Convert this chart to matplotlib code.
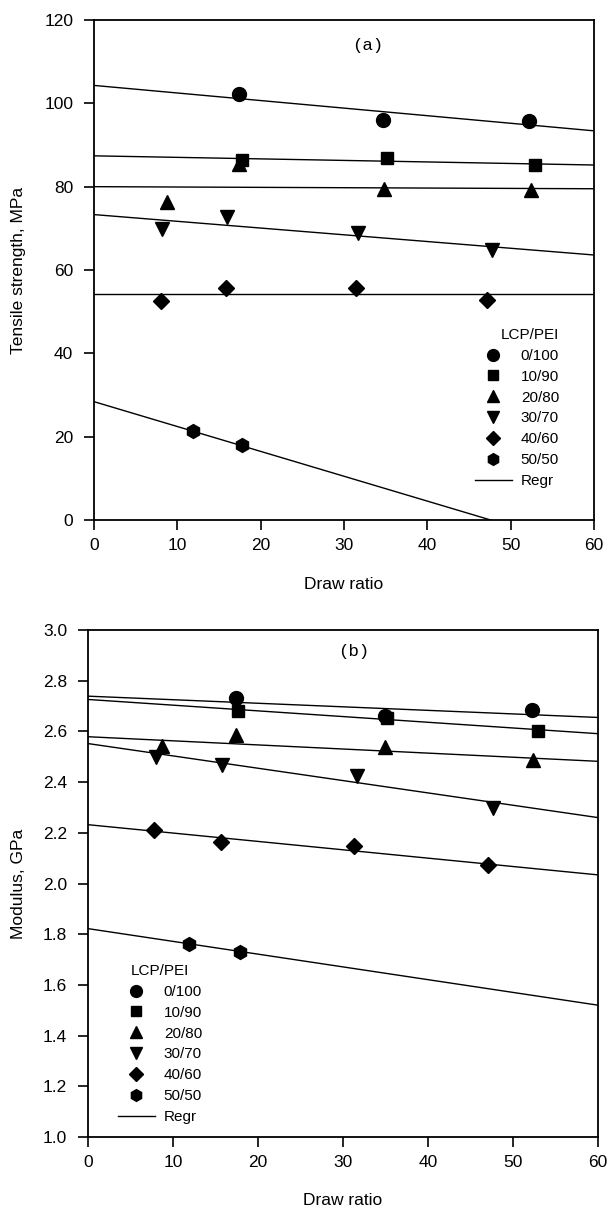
import matplotlib
matplotlib.use("Agg")
import matplotlib.pyplot as plt
import numpy as np

plt.rcParams['font.family'] = ['Liberation Sans', 'DejaVu Sans']

# ---------------- data ----------------
groups = ["0/100", "10/90", "20/80", "30/70", "40/60", "50/50"]
markers = ["o", "s", "^", "v", "D", "h"]
msizes = [10, 9, 10, 10, 8, 10]

# (a) tensile strength, MPa
ts_x = [
    [17.4, 34.7, 52.2],
    [17.7, 35.2, 52.9],
    [8.8, 17.4, 34.8, 52.4],
    [8.2, 15.9, 31.7, 47.7],
    [8.0, 15.8, 31.4, 47.1],
    [11.9, 17.8],
]
ts_y = [
    [102.2, 96.1, 95.8],
    [86.5, 86.8, 85.1],
    [76.4, 85.5, 79.4, 79.1],
    [69.8, 72.6, 68.8, 64.8],
    [52.6, 55.7, 55.7, 52.9],
    [21.4, 17.9],
]
# regression lines read at draw ratio 0 and 60
ts_regr_at0 = [104.3, 87.4, 80.0, 73.3, 54.3, 28.4]
ts_regr_at60 = [93.4, 85.2, 79.5, 63.6, 54.3, -7.4]

# (b) modulus, GPa
mod_x = [
    [17.4, 34.9, 52.2],
    [17.6, 35.2, 52.9],
    [8.7, 17.4, 34.9, 52.4],
    [8.0, 15.8, 31.7, 47.7],
    [7.8, 15.7, 31.3, 47.1],
    [11.9, 17.9],
]
mod_y = [
    [2.732, 2.662, 2.684],
    [2.679, 2.652, 2.602],
    [2.544, 2.585, 2.539, 2.486],
    [2.498, 2.467, 2.426, 2.299],
    [2.213, 2.165, 2.147, 2.074],
    [1.760, 1.731],
]
mod_regr_at0 = [2.739, 2.726, 2.579, 2.552, 2.232, 1.822]
mod_regr_at60 = [2.655, 2.591, 2.482, 2.260, 2.034, 1.520]

regr_x = [0, 60]

# ---------------- figure ----------------
W, H = 609, 1211
fig = plt.figure(figsize=(W / 100, H / 100), dpi=100)

def px_axes(l, t, r, b):
    return fig.add_axes([l / W, 1 - b / H, (r - l) / W, (b - t) / H])

ax1 = px_axes(94, 20, 594, 520)
ax2 = px_axes(88, 630, 598, 1137)

FS = 12.5
LFS = 11

def style(ax):
    for s in ax.spines.values():
        s.set_linewidth(1.3)
    ax.tick_params(direction='out', length=7, width=1.2, labelsize=FS,
                   top=False, right=False)
    ax.tick_params(axis='x', pad=6)
    ax.tick_params(axis='y', pad=8)

def draw(ax, xs, ys, r0, r60):
    for i in range(len(groups)):
        ax.plot(xs[i], ys[i], linestyle='none', marker=markers[i],
                markersize=msizes[i], color='black', label=groups[i],
                zorder=3)
    for i in range(len(groups)):
        ax.plot(regr_x, [r0[i], r60[i]], color='black', linewidth=1.0,
                label='Regr' if i == 0 else None, zorder=2)

draw(ax1, ts_x, ts_y, ts_regr_at0, ts_regr_at60)
draw(ax2, mod_x, mod_y, mod_regr_at0, mod_regr_at60)

ax1.set_xlim(0, 60)
ax1.set_ylim(0, 120)
ax1.set_xticks(np.arange(0, 61, 10))
ax1.set_yticks(np.arange(0, 121, 20))
ax1.set_xlabel("Draw ratio", fontsize=FS)
ax1.set_ylabel("Tensile strength, MPa", fontsize=FS)
ax1.xaxis.set_label_coords(0.5, -0.114)
ax1.yaxis.set_label_coords(-0.135, 0.5)
ax1.text(32.9, 113.8, "(a)", fontsize=FS, family='Liberation Mono',
         ha='center', va='center')

ax2.set_xlim(0, 60)
ax2.set_ylim(1.0, 3.0)
ax2.set_xticks(np.arange(0, 61, 10))
ax2.set_yticks(np.arange(1.0, 3.01, 0.2))
ax2.set_yticklabels([f"{v:.1f}" for v in np.arange(1.0, 3.01, 0.2)])
ax2.set_xlabel("Draw ratio", fontsize=FS)
ax2.set_ylabel("Modulus, GPa", fontsize=FS)
ax2.xaxis.set_label_coords(0.5, -0.110)
ax2.yaxis.set_label_coords(-0.122, 0.5)
ax2.text(31.2, 2.917, "(b)", fontsize=FS, family='Liberation Mono',
         ha='center', va='center')

for ax in (ax1, ax2):
    style(ax)

leg_kw = dict(title="LCP/PEI", frameon=False, fontsize=LFS,
              title_fontsize=LFS, markerscale=0.85, handlelength=2.4,
              handletextpad=0.6, labelspacing=0.45, borderpad=0,
              borderaxespad=0)
ax1.legend(loc='upper left', bbox_to_anchor=(475 / W, 1 - 328 / H),
           bbox_transform=fig.transFigure, alignment='right', **leg_kw)
ax2.legend(loc='upper left', bbox_to_anchor=(118 / W, 1 - 964 / H),
           bbox_transform=fig.transFigure, **leg_kw)

fig.savefig("out.png", dpi=100)
